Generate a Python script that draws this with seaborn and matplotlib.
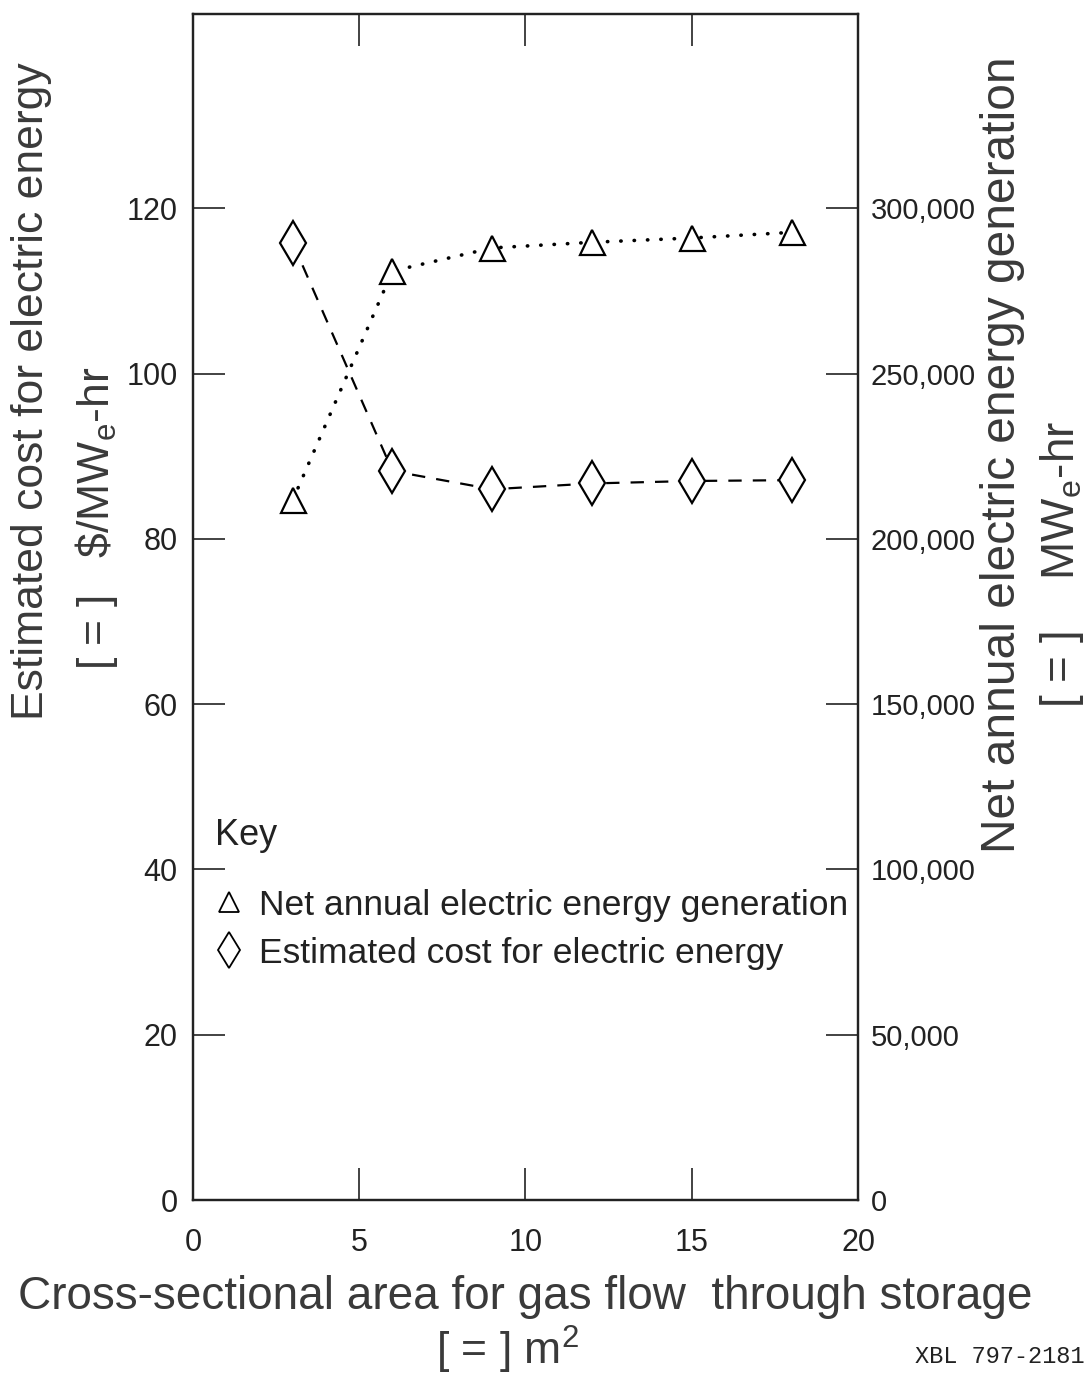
import matplotlib
matplotlib.use("Agg")
import matplotlib.pyplot as plt
from matplotlib.lines import Line2D
import seaborn as sns
import pandas as pd

# ---- data ----
area_m2 = [3, 6, 9, 12, 15, 18]
cost_per_mwh = [115.8, 88.2, 86.0, 86.7, 87.0, 87.1]
net_generation_mwh = [211700, 281000, 288000, 289700, 291000, 292700]

x_ticks = [0, 5, 10, 15, 20]
left_ticks = [0, 20, 40, 60, 80, 100, 120]
right_ticks = [0, 50000, 100000, 150000, 200000, 250000, 300000]
right_tick_labels = ["0", "50,000", "100,000", "150,000", "200,000", "250,000", "300,000"]

df = pd.DataFrame({"area": area_m2, "cost": cost_per_mwh, "gen": net_generation_mwh})

sns.set_theme(style="white")
FAM = ["Liberation Sans", "DejaVu Sans"]
plt.rcParams["font.family"] = FAM
plt.rcParams["mathtext.fontset"] = "custom"
plt.rcParams["mathtext.rm"] = "Liberation Sans"
plt.rcParams["mathtext.it"] = "Liberation Sans"

fig = plt.figure(figsize=(10.89, 13.87), dpi=100)
ax = fig.add_axes([0.1772, 0.1348, 0.6107, 0.8551])
ax2 = ax.twinx()

ymax_left = 143.5
ax.set_xlim(0, 20)
ax.set_ylim(0, ymax_left)
ax2.set_ylim(0, ymax_left * 2500)

sns.lineplot(data=df, x="area", y="cost", ax=ax, color="black",
             linestyle=(0, (6, 5)), linewidth=1.6,
             marker="d", markersize=22, markerfacecolor="white",
             markeredgecolor="black", markeredgewidth=1.6, zorder=3)
sns.lineplot(data=df, x="area", y="gen", ax=ax2, color="black",
             linestyle=(0, (0.1, 3.6)), linewidth=2.6, dash_capstyle="round",
             marker="^", markersize=18, markerfacecolor="white",
             markeredgecolor="black", markeredgewidth=1.6, zorder=3)

ax.set_xlabel("")
ax.set_ylabel("")
ax2.set_ylabel("")

ax.set_xticks(x_ticks)
ax.set_xticklabels([str(v) for v in x_ticks])
ax.set_yticks(left_ticks)
ax.set_yticklabels([str(v) for v in left_ticks])
ax2.set_yticks(right_ticks)
ax2.set_yticklabels(right_tick_labels)

tick_color = "#222222"
ax.tick_params(axis="x", direction="in", length=23, width=1.2, top=True, bottom=True,
               labelsize=22, pad=20, colors=tick_color)
ax.tick_params(axis="y", direction="in", length=23, width=1.2, left=True, right=False,
               labelsize=22, pad=11, colors=tick_color)
ax2.tick_params(axis="y", direction="in", length=23, width=1.2, right=True,
                labelsize=21, pad=9, colors=tick_color)

for a in (ax, ax2):
    for s in a.spines.values():
        s.set_visible(True)
        s.set_color("#222222")
        s.set_linewidth(1.6)
ax.grid(False)
ax2.grid(False)

# legend ("Key")
ax.text(0.033, (1200 - 835) / 1186, "Key", transform=ax.transAxes, ha="left",
        va="center", fontsize=26, color="#222222")
handles = [
    Line2D([], [], linestyle="none", marker="^", markersize=14, markerfacecolor="white",
           markeredgecolor="black", markeredgewidth=1.3),
    Line2D([], [], linestyle="none", marker="d", markersize=18, markerfacecolor="white",
           markeredgecolor="black", markeredgewidth=1.3),
]
labels = ["Net annual electric energy generation", "Estimated cost for electric energy"]
leg = ax.legend(handles, labels, loc="upper left",
                bbox_to_anchor=(0.014, (1200 - 878) / 1186), frameon=False, fontsize=25.5,
                handlelength=0.9, handletextpad=0.4,
                labelspacing=0.42, borderaxespad=0.0, borderpad=0.3)
for t in leg.get_texts():
    t.set_color("#222222")

# axis titles
label_color = "#3a3a3a"
fig.text(0.029, 0.718, "Estimated cost for electric energy", rotation=90,
         ha="center", va="center", fontsize=32, color=label_color)
fig.text(0.089, 0.6265, r"[ = ]   \$/MW$_\mathregular{e}$-hr", rotation=90,
         ha="center", va="center", fontsize=32, color=label_color)
fig.text(0.921, 0.672, "Net annual electric energy generation", rotation=90,
         ha="center", va="center", fontsize=34.5, color=label_color)
fig.text(0.975, 0.593, r"[ = ]    MW$_\mathregular{e}$-hr", rotation=90,
         ha="center", va="center", fontsize=33, color=label_color)
fig.text(0.482, 0.065, "Cross-sectional area for gas flow  through storage",
         ha="center", va="center", fontsize=33, color=label_color)
fig.text(0.466, 0.027, r"[ = ] m$^\mathregular{2}$",
         ha="center", va="center", fontsize=32, color=label_color)
fig.text(0.996, 0.022, "XBL 797-2181", ha="right", va="center", fontsize=17,
         color="#222222", family=["Liberation Mono", "DejaVu Sans Mono"])

fig.savefig("out.png", dpi=100)
